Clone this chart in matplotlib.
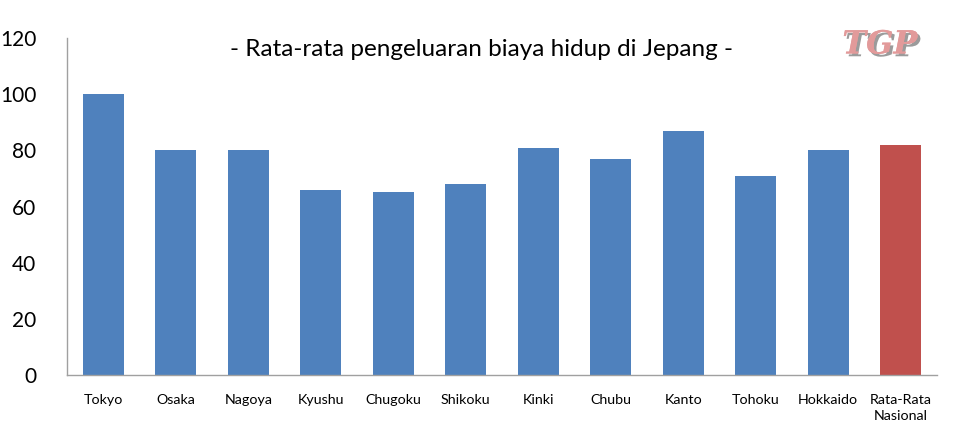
import matplotlib
matplotlib.use("Agg")
import matplotlib.pyplot as plt
import matplotlib.patheffects as pe

categories = ["Tokyo", "Osaka", "Nagoya", "Kyushu", "Chugoku", "Shikoku", "Kinki",
              "Chubu", "Kanto", "Tohoku", "Hokkaido", "Rata-Rata\nNasional"]
values = [100, 80, 80, 66, 65, 68, 81, 77, 87, 71, 80, 82]
colors = ["#4F81BD"] * 11 + ["#C0504D"]
yticks = [0, 20, 40, 60, 80, 100, 120]

plt.rcParams['font.family'] = ['Lato', 'DejaVu Sans']

fig = plt.figure(figsize=(9.58, 4.44), dpi=100)
ax = fig.add_axes([67/958, 1-375/444, (937-67)/958, (375-38)/444])

x = range(len(categories))
ax.bar(x, values, width=0.57, color=colors)
ax.set_xlim(-0.5, len(categories)-0.5)
ax.set_ylim(0, 120)
ax.set_yticks(yticks)
ax.set_yticklabels([str(t) for t in yticks], fontsize=15, color="#000000")
ax.set_xticks(list(x))
ax.set_xticklabels(categories, fontsize=10.3, linespacing=1.35, va="top")
ax.tick_params(axis="y", length=0, pad=22)
ax.tick_params(axis="x", length=0, pad=14)
for s in ["top", "right"]:
    ax.spines[s].set_visible(False)
for s in ["left", "bottom"]:
    ax.spines[s].set_color("#A0A0A0")
    ax.spines[s].set_linewidth(1.0)

fig.text(481/958, 1-50/444, "- Rata-rata pengeluaran biaya hidup di Jepang -",
         ha="center", va="center", fontsize=17.5, color="#000000")

fig.text(880/958, 1-45/444, "TGP", ha="center", va="center", fontsize=23,
         family="DejaVu Serif", style="italic", weight="bold", color="#E29A9A",
         path_effects=[pe.withSimplePatchShadow(offset=(2, -2), shadow_rgbFace="#909090", alpha=0.9),
                       pe.Normal()])

fig.savefig("out.png", dpi=100)
